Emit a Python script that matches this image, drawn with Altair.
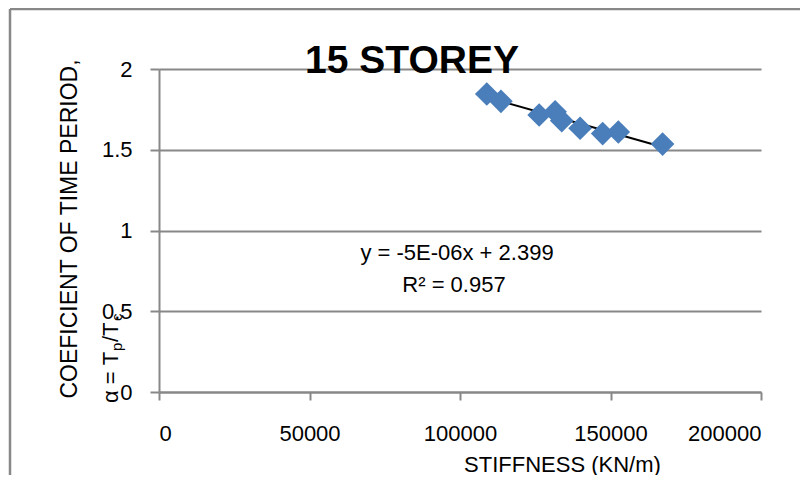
import altair as alt
import pandas as pd

# ---- data ----
stiffness = [108900, 113600, 126300, 131600, 133800, 139900, 147400, 152600, 167300]
alpha = [1.845, 1.80, 1.715, 1.735, 1.68, 1.633, 1.60, 1.61, 1.535]

x_ticks = [0, 50000, 100000, 150000, 200000]
y_ticks = [0, 0.5, 1, 1.5, 2]

title_text = "15 STOREY"
x_title = "STIFFNESS (KN/m)"
y_title_1 = "COEFICIENT OF TIME PERIOD,"
eq_text = "y = -5E-06x + 2.399"
r2_text = "R\u00b2 = 0.957"

df = pd.DataFrame({"stiffness": stiffness, "alpha": alpha})

GRAY = "#888888"
REG = "Liberation Sans"

W, H = 602, 323

xscale = alt.Scale(domain=[0, 200000], nice=False, zero=True)
yscale = alt.Scale(domain=[0, 2], nice=False, zero=True)

base = alt.Chart(df)

points = base.mark_point(
    shape="diamond", filled=True, size=560, color="#4a7ebb", opacity=1
).encode(
    x=alt.X(
        "stiffness:Q",
        scale=xscale,
        axis=alt.Axis(
            values=x_ticks, format="d", grid=False, tickSize=8,
            labelPadding=23, labelFontSize=22, labelFont=REG, labelColor="#000000",
            domainColor=GRAY, tickColor=GRAY, domainWidth=2, tickWidth=2,
            title=x_title, titleFont=REG, titleFontSize=22, titleFontWeight="normal",
            titleColor="#000000", titleX=403, titleY=79, titleAlign="center",
            titleBaseline="alphabetic", titleAnchor="start",
        ),
    ),
    y=alt.Y(
        "alpha:Q",
        scale=yscale,
        axis=alt.Axis(
            values=y_ticks, format="~g", grid=True, gridColor=GRAY, gridWidth=2,
            tickSize=9, labelPadding=18, labelFontSize=22, labelFont=REG,
            labelColor="#000000", domainColor=GRAY, tickColor=GRAY,
            domainWidth=2, tickWidth=2, title="",
        ),
    ),
)

trend = base.transform_regression("stiffness", "alpha").mark_line(
    color="#000000", strokeWidth=2
).encode(x=alt.X("stiffness:Q", scale=xscale), y=alt.Y("alpha:Q", scale=yscale))

ann = pd.DataFrame({"t": [0]})


def txt(text, x, y, size, font=REG, weight="normal", angle=0, align="center",
        baseline="alphabetic"):
    kw = dict(text=text, fontSize=size, font=font, fontWeight=weight,
              align=align, baseline=baseline, color="#000000")
    if angle:
        kw["angle"] = angle
    return alt.Chart(ann).mark_text(**kw).encode(x=alt.value(x), y=alt.value(y))


title = txt(title_text, 253, 4, 39, weight="bold")
eq = txt(eq_text, 298, 191, 22)
r2 = txt(r2_text, 295, 223, 22)

ylab1 = txt(y_title_1, -82, 160, 23, angle=270)
ylab2a = txt("\u03b1 = T", -41, 334, 22, angle=270, align="left")
ylab2b = txt("p", -37, 282, 15, angle=270, align="left")
ylab2c = txt("/T", -41, 273, 22, angle=270, align="left")
ylab2d = txt("c", -37, 252, 15, angle=270, align="left")

frame_top = alt.Chart(ann).mark_rule(color=GRAY, strokeWidth=2.5).encode(
    x=alt.value(-149), x2=alt.value(660), y=alt.value(-60)
)
frame_left = alt.Chart(ann).mark_rule(color=GRAY, strokeWidth=2.5).encode(
    x=alt.value(-149), y=alt.value(-60), y2=alt.value(430)
)

chart = alt.layer(
    frame_top, frame_left, trend, points, title, eq, r2,
    ylab1, ylab2a, ylab2b, ylab2c, ylab2d,
).properties(
    width=W, height=H,
    autosize=alt.AutoSizeParams(type="none"),
    padding={"left": 151, "top": 61, "right": 39, "bottom": 83},
    background="#ffffff",
).configure_view(stroke=None)

chart.save("out.html", embed_options={"renderer": "svg", "actions": False})
